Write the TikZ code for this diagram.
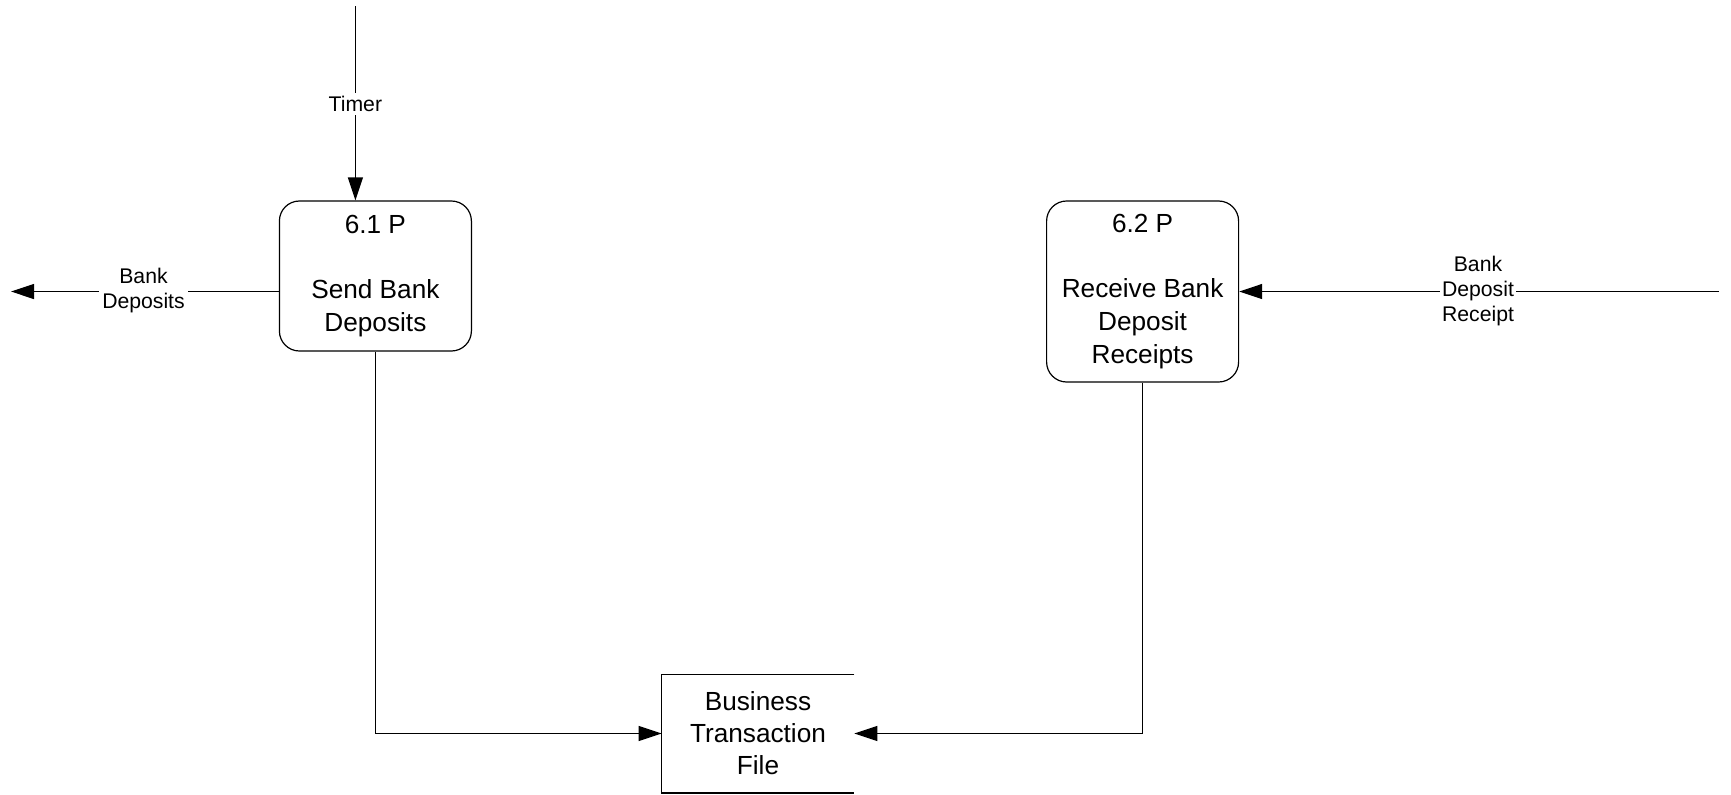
\documentclass[tikz,border=0pt]{standalone}
\usepackage{fontspec}
\setmainfont{Liberation Sans}
\usetikzlibrary{arrows.meta}
\begin{document}
\begin{tikzpicture}[x=0.5pt,y=-0.5pt,
  flow/.style={draw=black,line width=0.6pt,-{Triangle[length=11.5pt,width=7.5pt]}},
  proc/.style={draw=black,line width=0.6pt,rounded corners=10pt,minimum width=96pt,
    align=center,font=\fontsize{13.1pt}{16.3pt}\selectfont,inner sep=0pt},
  storebox/.style={minimum width=96pt,minimum height=59pt,align=center,
    font=\fontsize{13.1pt}{16pt}\selectfont,inner sep=0pt},
  flowlabel/.style={fill=white,align=center,inner sep=1.5pt,
    font=\fontsize{10.6pt}{12.5pt}\selectfont}
]
  % canvas
  \path[use as bounding box,fill=white] (0,0) rectangle (1731,794);

  % processes
  \node[proc,minimum height=75pt] (p61) at (375.4,276)
    {6.1 P\\[16.3pt]Send Bank\\Deposits};
  \node[proc,minimum height=90.5pt] (p62) at (1142.6,291.5)
    {6.2 P\\[16.3pt]Receive Bank\\Deposit\\Receipts};

  % data store (open on the right)
  \node[storebox] (store) at (758,733.5) {Business\\Transaction\\File};
  \draw[line width=0.6pt] (store.north east) -- (store.north west)
    -- (store.south west) -- (store.south east);

  % free ends of external flows
  \coordinate (timerin) at (355.4,6);
  \coordinate (depout) at (11,291.5);
  \coordinate (rcptin) at (1719,291.5);

  % flows
  \draw[flow] (timerin) -- (timerin |- p61.north);
  \node[flowlabel] (ltimer) at (355.4,104) {Timer};

  \draw[flow] (p61.west |- depout) -- (depout);
  \node[flowlabel] (ldep) at (143.5,291) {Bank\\Deposits};

  \draw[flow] (rcptin) -- (p62.east);
  \node[flowlabel,inner sep=0.8pt] (lrcpt) at (1478,291) {Bank\\Deposit\\Receipt};

  \draw[flow] (p61.south) |- (store.west);
  \draw[flow] (p62.south) |- (store.east);
\end{tikzpicture}
\end{document}
